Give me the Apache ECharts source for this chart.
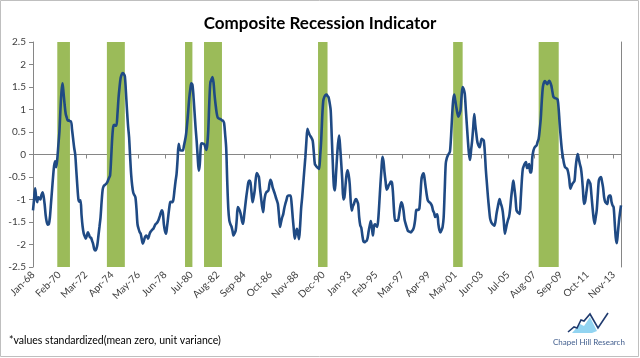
<!DOCTYPE html>
<html><head><meta charset="utf-8">
<script src="https://cdn.jsdelivr.net/npm/echarts@6/dist/echarts.min.js"></script>
<style>html,body{margin:0;padding:0;background:#fff}#c{width:640px;height:358px}</style>
</head><body><div id="c"></div>
<script>
// Monthly composite recession indicator, Jan-68 .. Jun-14
const values1968_1977 = [
 -1.24,-1.0,-0.75,-0.95,-1.06,-0.95,-0.97,-1.0,-0.9,-0.84,-0.92,-1.1,
 -1.35,-1.5,-1.56,-1.55,-1.4,-1.1,-0.8,-0.5,-0.25,-0.15,-0.28,-0.1,
 0.2,0.5,1.0,1.4,1.58,1.35,1.1,0.9,0.82,0.75,0.76,0.74,
 0.74,0.55,0.35,0.15,0.0,-0.35,-0.7,-0.99,-1.05,-1.02,-1.35,-1.6,
 -1.75,-1.82,-1.87,-1.8,-1.73,-1.78,-1.84,-1.85,-1.92,-1.99,-2.1,-2.13,
 -2.1,-2.0,-1.8,-1.6,-1.39,-1.05,-0.78,-0.7,-0.68,-0.66,-0.63,-0.58,
 -0.52,-0.47,-0.1,0.35,0.62,0.66,0.64,0.64,0.9,1.25,1.5,1.7,
 1.78,1.81,1.79,1.74,1.4,1.0,0.65,0.39,-0.05,-0.45,-0.7,-0.85,
 -0.9,-0.95,-1.2,-1.55,-1.65,-1.72,-1.76,-1.88,-1.98,-1.92,-1.84,-1.8,
 -1.82,-1.87,-1.8,-1.73,-1.7,-1.67,-1.65,-1.6,-1.55,-1.53,-1.5,-1.45
];
const values1978_1987 = [
 -1.38,-1.3,-1.24,-1.3,-1.56,-1.7,-1.76,-1.6,-1.4,-1.2,-1.06,-1.05,
 -1.06,-1.0,-0.8,-0.6,-0.43,-0.1,0.24,0.12,0.09,0.09,0.09,0.2,
 0.31,0.45,0.68,0.95,1.25,1.45,1.58,1.55,1.3,0.95,0.6,0.31,
 -0.05,-0.36,-0.22,0.2,0.25,0.24,0.24,0.18,0.1,0.2,0.53,1.15,
 1.6,1.66,1.72,1.6,1.32,1.1,0.92,0.82,0.8,0.79,0.78,0.76,
 0.75,0.7,0.45,0.15,-0.6,-1.2,-1.47,-1.55,-1.6,-1.7,-1.8,-1.75,
 -1.69,-1.45,-1.17,-1.2,-1.26,-1.35,-1.48,-1.54,-1.35,-1.15,-0.95,-0.78,
 -0.62,-0.58,-0.62,-0.85,-1.06,-0.95,-0.8,-0.55,-0.41,-0.45,-0.5,-0.75,
 -0.95,-1.15,-1.28,-1.05,-0.9,-0.84,-0.82,-0.8,-0.65,-0.56,-0.62,-0.73,
 -0.8,-0.87,-0.95,-1.02,-1.1,-1.35,-1.61,-1.5,-1.4,-1.33,-1.2,-1.1
];
const values1988_1997 = [
 -1.02,-0.93,-0.91,-0.91,-0.91,-1.1,-1.39,-1.65,-1.87,-1.75,-1.65,-1.75,
 -1.88,-1.6,-1.2,-0.95,-0.65,-0.35,-0.06,0.3,0.57,0.5,0.44,0.4,
 0.36,0.3,0.05,-0.21,-0.25,-0.28,-0.3,-0.32,-0.05,0.31,0.85,1.2,
 1.28,1.32,1.33,1.3,1.27,1.15,0.98,0.4,-0.2,-0.7,-0.8,-0.45,
 -0.06,0.25,0.42,0.15,-0.2,-0.58,-1.0,-0.95,-0.7,-0.45,-0.35,-0.45,
 -0.65,-1.05,-1.25,-1.15,-1.1,-1.02,-0.99,-1.03,-1.1,-1.4,-1.57,-1.63,
 -1.8,-1.93,-1.95,-1.93,-1.92,-1.85,-1.7,-1.58,-1.48,-1.62,-1.8,-1.6,
 -1.55,-1.58,-1.61,-1.45,-1.1,-0.7,-0.36,-0.05,-0.15,-0.4,-0.6,-0.78,
 -0.75,-0.68,-0.65,-0.6,-0.62,-0.85,-1.25,-1.47,-1.47,-1.47,-1.45,-1.3,
 -1.15,-1.06,-1.12,-1.25,-1.45,-1.54,-1.62,-1.69,-1.71,-1.72,-1.73,-1.7
];
const values1998_2007 = [
 -1.67,-1.6,-1.45,-1.24,-1.23,-1.23,-1.2,-0.9,-0.55,-0.45,-0.42,-0.55,
 -0.73,-0.9,-1.02,-1.05,-1.07,-1.1,-1.15,-1.25,-1.3,-1.39,-1.35,-1.33,
 -1.55,-1.68,-1.73,-1.68,-1.61,-1.4,-0.8,-0.2,-0.08,-0.02,0.02,0.07,
 0.4,0.85,1.2,1.33,1.2,1.05,0.92,0.84,0.9,0.98,1.3,1.5,
 1.45,1.35,1.0,0.65,0.3,0.01,-0.12,0.1,0.31,0.6,0.9,0.65,
 0.45,0.27,0.2,0.16,0.25,0.35,0.33,0.31,0.05,-0.35,-0.65,-0.95,
 -1.2,-1.42,-1.5,-1.54,-1.56,-1.58,-1.5,-1.33,-1.2,-1.08,-0.99,-1.08,
 -1.15,-1.27,-1.5,-1.76,-1.65,-1.54,-1.45,-1.38,-1.2,-0.95,-0.75,-0.58,
 -0.75,-0.95,-1.24,-1.28,-1.3,-1.32,-1.0,-0.6,-0.32,-0.25,-0.2,-0.17,
 -0.3,-0.28,-0.21,-0.4,-0.4,-0.06,0.08,0.15,0.18,0.2,0.28,0.35
];
const values2008_2014 = [
 0.55,0.8,1.2,1.5,1.6,1.63,1.6,1.56,1.6,1.64,1.6,1.53,
 1.4,1.28,1.26,1.25,1.24,1.22,1.0,0.65,0.35,0.1,-0.06,-0.2,
 -0.28,-0.3,-0.32,-0.4,-0.55,-0.76,-0.7,-0.65,-0.62,-0.58,-0.3,-0.1,
 0.01,-0.1,-0.21,-0.3,-0.5,-0.8,-1.1,-1.05,-0.88,-0.7,-0.56,-0.6,
 -0.65,-0.9,-1.17,-1.4,-1.54,-1.4,-1.24,-0.9,-0.58,-0.52,-0.5,-0.6,
 -0.73,-0.95,-1.05,-1.08,-1.1,-0.95,-0.91,-0.91,-1.05,-1.13,-1.17,-1.5,
 -1.84,-1.97,-1.75,-1.5,-1.3,-1.13
];
const monthNames = ['Jan','Feb','Mar','Apr','May','Jun','Jul','Aug','Sep','Oct','Nov','Dec'];
const startYear = 1968;
const yTicks = [-2.5,-2,-1.5,-1,-0.5,0,0.5,1,1.5,2,2.5];
// Recession bands (category labels)
const recessionStart = ['Dec-69','Nov-73','Jan-80','Jul-81','Jul-90','Mar-01','Dec-07'];
const recessionEnd   = ['Dec-70','Apr-75','Aug-80','Dec-82','Apr-91','Dec-01','Jul-09'];

const values = [].concat(values1968_1977, values1978_1987, values1988_1997, values1998_2007, values2008_2014);
const categories = values.map((v, i) => {
  const y = startYear + Math.floor(i / 12);
  return monthNames[i % 12] + '-' + String(y % 100).padStart(2, '0');
});

const chart = echarts.init(document.getElementById('c'), null, {renderer: 'canvas'});
const axisGray = '#868686';
chart.setOption({
  animation: false,
  backgroundColor: '#fff',
  title: {
    text: 'Composite Recession Indicator',
    left: 'center', top: 10,
    textStyle: {fontFamily: 'Lato', fontWeight: 'bold', fontSize: 17, color: '#000'}
  },
  grid: {left: 33, right: 19, top: 42, bottom: 91, containLabel: false, outerBoundsMode: 'none'},
  xAxis: [{
    type: 'category',
    data: categories,
    boundaryGap: false,
    position: 'bottom',
    axisLine: {show: false, onZero: false},
    axisTick: {show: false},
    axisLabel: {
      show: true, interval: 24, rotate: 45, margin: 6, hideOverlap: false,
      fontFamily: 'Lato', fontSize: 10, color: '#404040'
    },
    splitLine: {show: false}
  }, {
    type: 'category',
    data: categories,
    boundaryGap: false,
    position: 'top',
    axisLine: {show: true, onZero: true, lineStyle: {color: axisGray, width: 1}},
    axisTick: {show: true, inside: true, interval: 24, length: 4, lineStyle: {color: axisGray}},
    axisLabel: {show: false},
    splitLine: {show: false}
  }],
  yAxis: [{
    type: 'value', min: -2.5, max: 2.5, interval: 0.5,
    axisLine: {show: true, lineStyle: {color: axisGray}},
    axisTick: {show: true, length: 4, lineStyle: {color: axisGray}},
    axisLabel: {fontFamily: 'Lato', fontSize: 10, color: '#404040', margin: 7,
      formatter: v => String(v)},
    splitLine: {show: false}
  }, {
    type: 'value', min: -2.5, max: 2.5, interval: 0.5, position: 'right',
    axisLine: {show: true, onZero: false, lineStyle: {color: axisGray}},
    axisTick: {show: false}, axisLabel: {show: false}, splitLine: {show: false}
  }],
  series: [{
    type: 'line',
    xAxisIndex: 0, yAxisIndex: 0,
    data: values,
    showSymbol: false,
    smooth: 0.3,
    lineStyle: {color: '#1F4A84', width: 2.6},
    z: 3,
    markArea: {
      silent: true,
      itemStyle: {color: '#9BBB59', opacity: 1},
      data: recessionStart.map((s, k) => [{xAxis: s}, {xAxis: recessionEnd[k]}])
    }
  }],
  graphic: [
    {type: 'rect', shape: {x: 0.5, y: 0.5, width: 638, height: 356}, style: {fill: 'none', stroke: '#bfbfbf', lineWidth: 1}, silent: true},
    {type: 'text', left: 9, top: 335, style: {text: '*values standardized(mean zero, unit variance)', fontFamily: 'Lato', fontSize: 10.5, fill: '#000'}},
    {type: 'polygon', shape: {points: [[572,333],[580,324],[584,326],[590,317],[597,331],[592,333]]}, style: {fill: '#7FCDEE', opacity: 0.85}, silent: true},
    {type: 'polyline', shape: {points: [[568,332],[574,327],[577,328],[581,320],[584,321],[590,314],[598,328],[608,313]]}, style: {stroke: '#1F3A6E', lineWidth: 1.6, fill: 'none'}, silent: true},
    {type: 'text', left: 553, top: 338, style: {text: 'Chapel Hill Research', fontFamily: 'Lato', fontSize: 8, fill: '#44608F'}}
  ]
});
</script>
</body></html>
